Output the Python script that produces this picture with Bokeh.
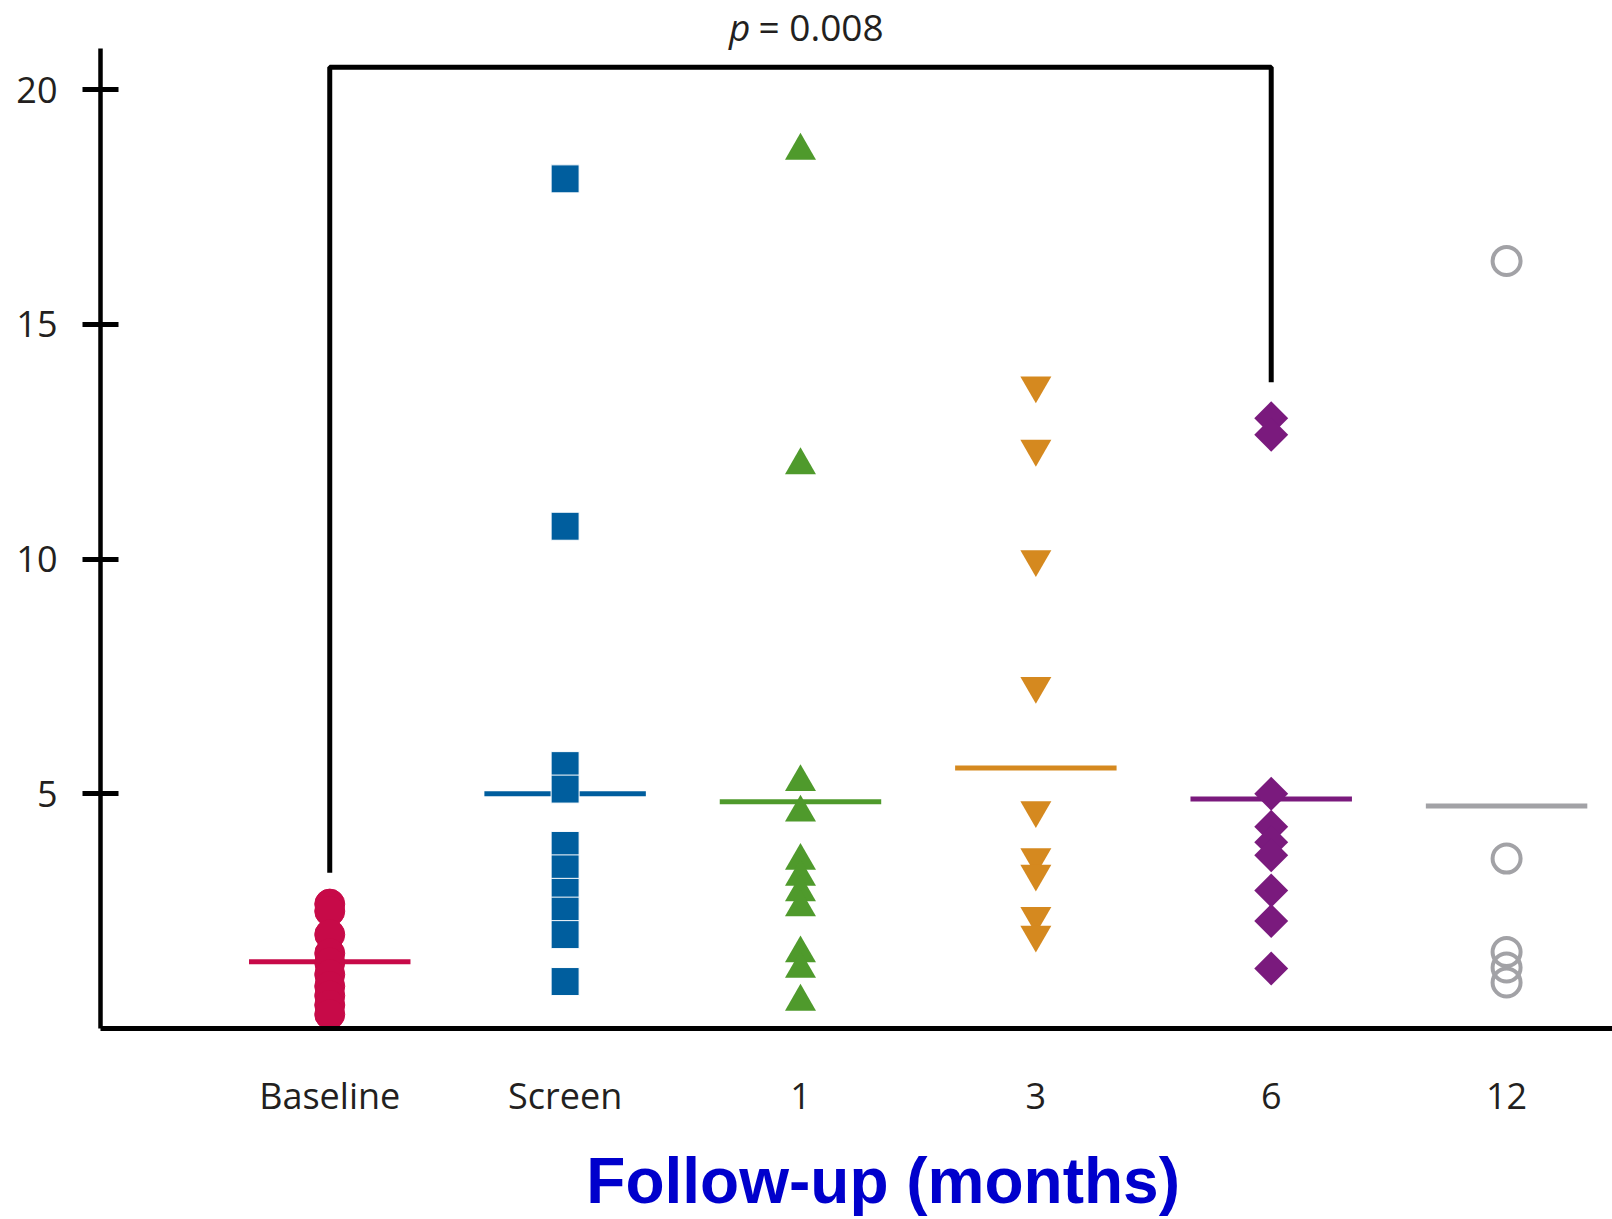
from bokeh.plotting import figure
from bokeh.models import Range1d, FixedTicker
from bokeh.core.properties import value
from bokeh.embed import file_html
from bokeh.resources import INLINE
import math

groups = ["Baseline", "Screen", "1", "3", "6", "12"]

baseline_vals = [2.65, 2.5, 2.0, 1.6, 1.4, 1.15, 0.9, 0.7, 0.5, 0.3]
screen_vals = [18.1, 10.7, 5.6, 5.1, 3.9, 3.4, 2.9, 2.5, 2.0, 1.0]
m1_vals = [18.7, 12.0, 5.25, 4.6, 3.57, 3.23, 2.9, 2.58, 1.6, 1.27, 0.57]
m3_vals = [13.7, 12.35, 10.0, 7.3, 4.65, 3.65, 3.3, 2.4, 2.0]
m6_vals = [13.0, 12.65, 5.0, 4.3, 3.97, 3.69, 2.94, 2.29, 1.28]
m12_vals = [16.35, 3.62, 1.63, 1.3, 0.98]

center_lines = [1.42, 5.0, 4.83, 5.55, 4.89, 4.74]

bracket_x = [0, 0, 4, 4]
bracket_y = [3.32, 20.48, 20.48, 13.77]
p_text_pos = 21.35

colors = ["#C70A48", "#005E9E", "#4F9A2C", "#D5891F", "#7A1A7D", "#A2A2A6"]

p = figure(width=1612, height=1219, output_backend="svg", toolbar_location=None,
           x_range=Range1d(-0.974, 5.45), y_range=Range1d(0, 21.9),
           min_border_left=100, min_border_right=0, min_border_top=0,
           min_border_bottom=189)
p.outline_line_color = None
p.xgrid.grid_line_color = None
p.ygrid.grid_line_color = None
p.background_fill_color = "white"
p.border_fill_color = "white"

# center (mean) lines
half = 0.343
p.segment(x0=[i - half for i in range(6)], x1=[i + half for i in range(6)],
          y0=center_lines, y1=center_lines, line_color=colors, line_width=5)

# points
p.scatter([0] * len(baseline_vals), baseline_vals, marker="circle", size=30,
          fill_color=colors[0], line_color=colors[0])
p.scatter([1] * len(screen_vals), screen_vals, marker="square", size=28,
          fill_color=colors[1], line_color="white", line_width=1)
p.scatter([2] * len(m1_vals), m1_vals, marker="triangle", size=31,
          fill_color=colors[2], line_color=None)
p.scatter([3] * len(m3_vals), m3_vals, marker="inverted_triangle", size=31,
          fill_color=colors[3], line_color=None)
p.scatter([4] * len(m6_vals), m6_vals, marker="square", size=24, angle=math.pi / 4,
          fill_color=colors[4], line_color=None)
p.scatter([5] * len(m12_vals), m12_vals, marker="circle", size=28,
          fill_color=None, line_color=colors[5], line_width=4)

# significance bracket
p.line(bracket_x, bracket_y, line_color="black", line_width=5)
mid = (bracket_x[0] + bracket_x[-1]) / 2
p.text(x=[mid], y=[p_text_pos], text=["p"], text_align="right", text_baseline="middle",
       x_offset=-50, text_font=value("Open Sans"), text_font_style="italic",
       text_font_size="37px", text_color="#231f20")
p.text(x=[mid], y=[p_text_pos], text=["= 0.008"], text_align="left", text_baseline="middle",
       x_offset=-42, text_font=value("Open Sans"),
       text_font_size="37px", text_color="#231f20")

# axes
p.xaxis.ticker = FixedTicker(ticks=list(range(6)))
p.xaxis.major_label_overrides = {i: g for i, g in enumerate(groups)}
p.xaxis.major_tick_line_color = None
p.xaxis.minor_tick_line_color = None
p.xaxis.axis_line_width = 5
p.xaxis.axis_line_color = "black"
p.xaxis.major_label_text_font = "Open Sans"
p.xaxis.major_label_text_font_size = "36px"
p.xaxis.major_label_text_color = "#231f20"
p.xaxis.major_label_standoff = 36
# leading no-break spaces shift the centred title slightly right, as in the reference
p.xaxis.axis_label = "\u00a0\u00a0\u00a0Follow-up (months)"
p.xaxis.axis_label_text_font = "Liberation Sans"
p.xaxis.axis_label_text_font_style = "bold"
p.xaxis.axis_label_text_font_size = "64px"
p.xaxis.axis_label_text_color = "#0000CC"
p.xaxis.axis_label_standoff = 22

p.yaxis.ticker = FixedTicker(ticks=[5, 10, 15, 20])
p.yaxis.bounds = (0, 20.87)
p.yaxis.minor_tick_line_color = None
p.yaxis.major_tick_in = 18
p.yaxis.major_tick_out = 18
p.yaxis.major_tick_line_width = 5
p.yaxis.major_tick_line_color = "black"
p.yaxis.axis_line_width = 4.5
p.yaxis.axis_line_color = "black"
p.yaxis.major_label_text_font = "Open Sans"
p.yaxis.major_label_text_font_size = "36px"
p.yaxis.major_label_text_color = "#231f20"
p.yaxis.major_label_standoff = 25

open("out.html", "w").write(file_html(p, INLINE))
